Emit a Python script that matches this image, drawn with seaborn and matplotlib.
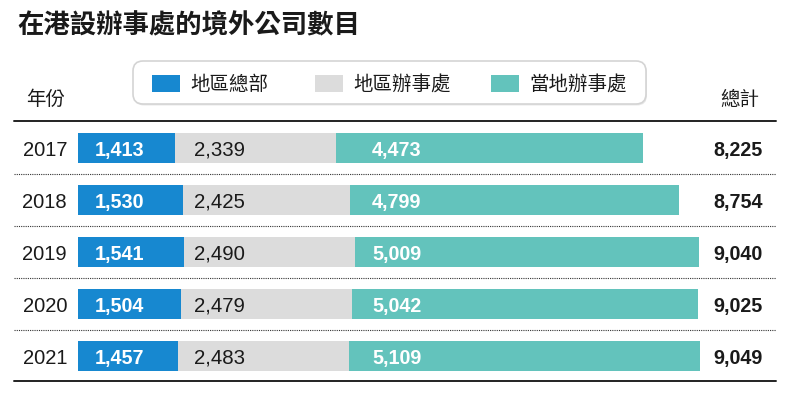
import numpy as np
import pandas as pd
import matplotlib
matplotlib.use('Agg')
import matplotlib.pyplot as plt
import matplotlib.transforms as mtrans
from matplotlib.patches import FancyBboxPatch, Rectangle
from matplotlib.lines import Line2D
import seaborn as sns

# ---------------- data ----------------
years = ['2017', '2018', '2019', '2020', '2021']
hq = [1413, 1530, 1541, 1504, 1457]          # 地區總部
regional = [2339, 2425, 2490, 2479, 2483]    # 地區辦事處
local = [4473, 4799, 5009, 5042, 5109]       # 當地辦事處
totals = [8225, 8754, 9040, 9025, 9049]      # 總計
series_names = ['地區總部', '地區辦事處', '當地辦事處']
colors = ['#1788d0', '#dcdcdc', '#63c3bc']
title = '在港設辦事處的境外公司數目'
year_header = '年份'
total_header = '總計'

# ---------------- setup ----------------
sns.set_theme(style='white')
NUM_FONT = ['Liberation Sans', 'DejaVu Sans']
CJK_FONT = ['Noto Sans CJK TC', 'DejaVu Sans']
plt.rcParams['font.family'] = ['Liberation Sans', 'Noto Sans CJK TC', 'DejaVu Sans']

W, H = 787, 395
fig = plt.figure(figsize=(W / 100, H / 100), dpi=100)
fig.patch.set_facecolor('white')
ax = fig.add_axes([0, 0, 1, 1])

# pixel transform (y down)
PX = mtrans.Affine2D().scale(1 / W, -1 / H).translate(0, 1) + fig.transFigure

df = pd.DataFrame({'year': years, 'hq': hq, 'regional': regional, 'local': local})
df['c2'] = df['hq'] + df['regional']
df['c3'] = df['c2'] + df['local']

bar_w = 30 / 52
for col, c in [('c3', colors[2]), ('c2', colors[1]), ('hq', colors[0])]:
    sns.barplot(data=df, y='year', x=col, orient='h', color=c, saturation=1,
                width=bar_w, linewidth=0, errorbar=None, ax=ax)

# map data to pixels
x0 = 78
s = 565 / 8225
ax.set_xlim(-x0 / s, (W - x0) / s)
row0, step = 148, 52
ax.set_ylim((H - row0) / step, -row0 / step)
ax.axis('off')

# blended: x pixels, y data
XB = mtrans.blended_transform_factory(
    mtrans.Affine2D().scale(1 / W, 1) + fig.transFigure, ax.transData)
base_off = 7.8 / step

for i, y in enumerate(years):
    yb = i + base_off
    ax.text(67, yb, y, transform=XB, ha='right', va='baseline', fontsize=14.5,
            family=NUM_FONT, color='#1a1a1a')
    ax.text(95, yb, f'{hq[i]:,}', transform=XB, ha='left', va='baseline', fontsize=14.2,
            family=NUM_FONT, fontweight='bold', color='white')
    ax.text(194, yb, f'{regional[i]:,}', transform=XB, ha='left', va='baseline', fontsize=14.7,
            family=NUM_FONT, color='#1a1a1a')
    ax.text(372, yb, f'{local[i]:,}', transform=XB, ha='left', va='baseline', fontsize=14.2,
            family=NUM_FONT, fontweight='bold', color='white')
    ax.text(763, yb, f'{totals[i]:,}', transform=XB, ha='right', va='baseline', fontsize=14.2,
            family=NUM_FONT, fontweight='bold', color='#1a1a1a')

# rules
fig.add_artist(Line2D([14, 776], [121, 121], transform=PX, color='#222222', lw=1.4))
fig.add_artist(Line2D([14, 776], [381, 381], transform=PX, color='#222222', lw=1.4))
for k in range(len(years) - 1):
    yy = row0 + step / 2 + step * k
    fig.add_artist(Line2D([14, 776], [yy, yy], transform=PX, color='#333333', lw=0.8,
                          linestyle=(0, (1, 1))))

# title and headers
fig.text(17, 33, title, transform=PX, fontsize=19, fontweight='bold', family=CJK_FONT,
         va='baseline', ha='left', color='#1a1a1a')
fig.text(26, 105, year_header, transform=PX, fontsize=14, family=CJK_FONT,
         va='baseline', ha='left', color='#1a1a1a')
fig.text(720, 105, total_header, transform=PX, fontsize=14, family=CJK_FONT,
         va='baseline', ha='left', color='#1a1a1a')

# legend box
shadow = FancyBboxPatch((134, 62.5), 513, 43, boxstyle='round,pad=0,rounding_size=10',
                        transform=PX, facecolor='#e8e8e8', edgecolor='none')
fig.add_artist(shadow)
box = FancyBboxPatch((133, 61), 513, 43, boxstyle='round,pad=0,rounding_size=10',
                     transform=PX, facecolor='white', edgecolor='#d4d4d4', lw=1.2)
fig.add_artist(box)
leg_x = [152, 315, 491]
for lx, name, c in zip(leg_x, series_names, colors):
    fig.add_artist(Rectangle((lx, 75), 28, 17, transform=PX, facecolor=c, edgecolor='none'))
    fig.text(lx + 38, 90, name, transform=PX, fontsize=14, family=CJK_FONT,
             va='baseline', ha='left', color='#1a1a1a')

fig.savefig('out.png', dpi=100, facecolor='white')
